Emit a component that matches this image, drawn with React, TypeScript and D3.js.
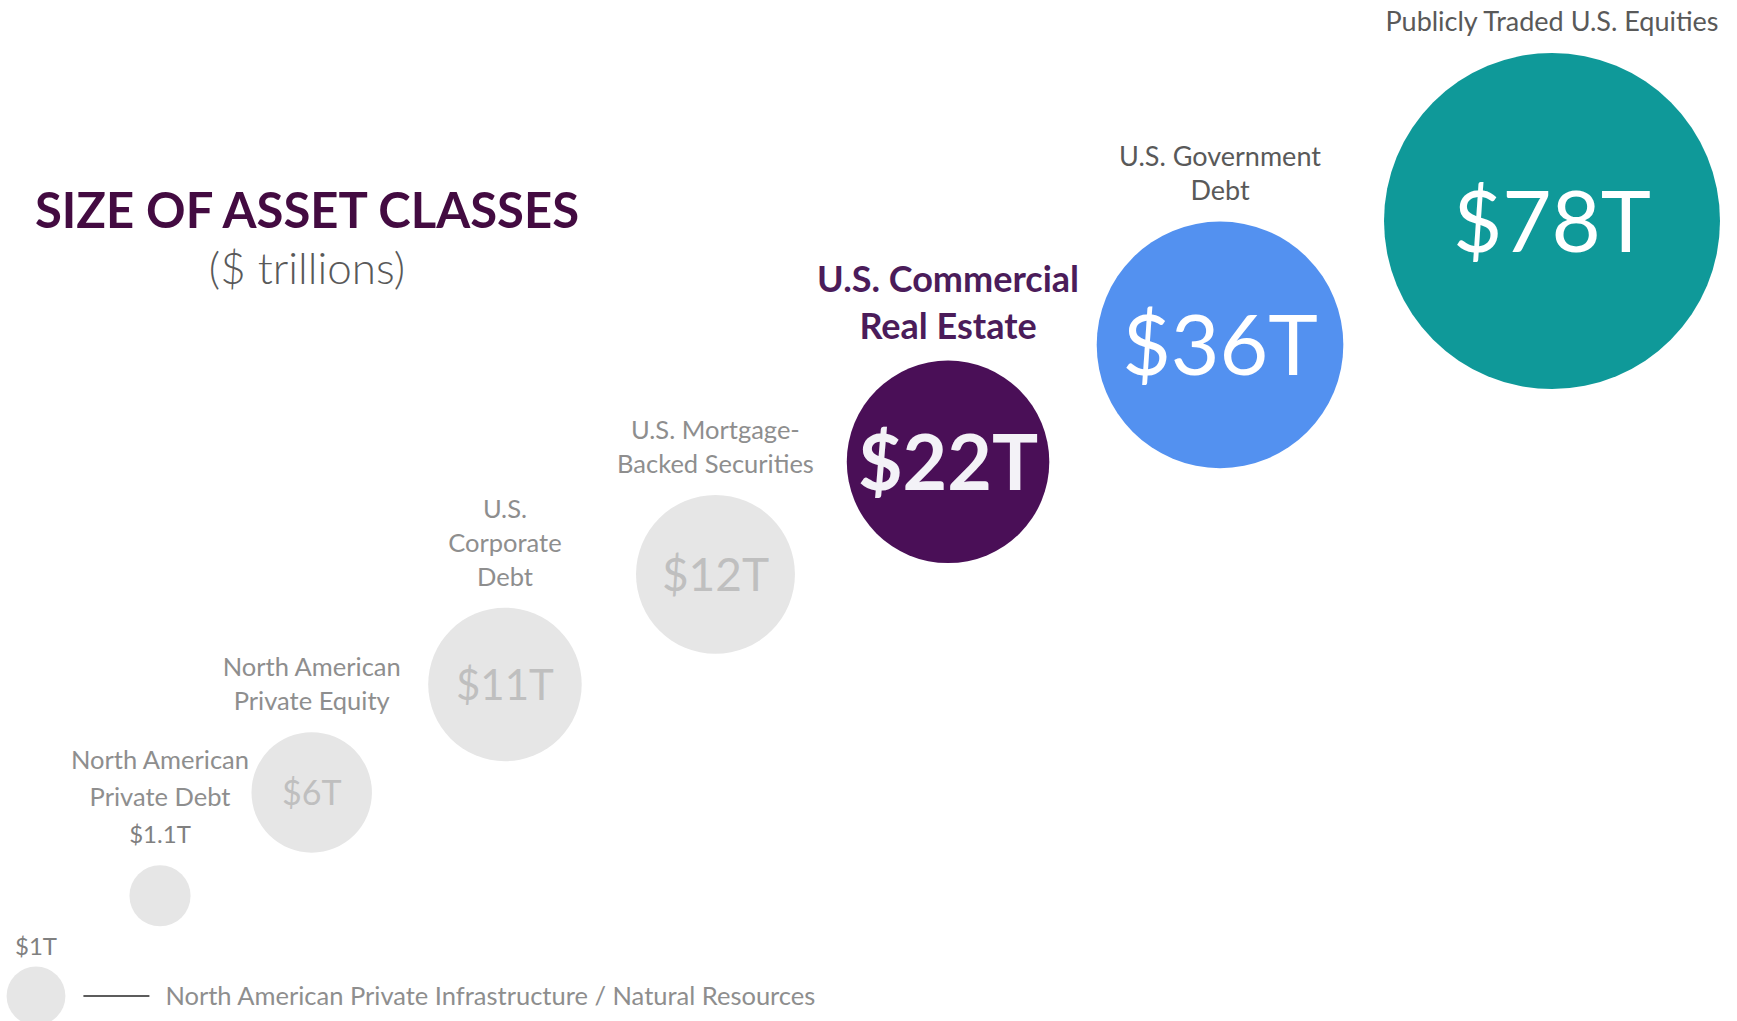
import * as d3 from 'd3';
import { useEffect, useRef } from 'react';

// asset classes, smallest to largest ($ trillions)
const categories = [
    'North American Private Infrastructure / Natural Resources',
    'North American Private Debt',
    'North American Private Equity',
    'U.S. Corporate Debt',
    'U.S. Mortgage-Backed Securities',
    'U.S. Commercial Real Estate',
    'U.S. Government Debt',
    'Publicly Traded U.S. Equities',
];
const values = [1, 1.1, 6, 11, 12, 22, 36, 78];
const valueLabels = ['$1T', '$1.1T', '$6T', '$11T', '$12T', '$22T', '$36T', '$78T'];
// how each category name is broken over lines in the picture
const labelLines = [
    [],
    ['North American', 'Private Debt'],
    ['North American', 'Private Equity'],
    ['U.S.', 'Corporate', 'Debt'],
    ['U.S. Mortgage-', 'Backed Securities'],
    ['U.S. Commercial', 'Real Estate'],
    ['U.S. Government', 'Debt'],
    ['Publicly Traded U.S. Equities'],
];

const title = 'SIZE OF ASSET CLASSES';
const subtitle = '($ trillions)';

const W = 1737;
const H = 1021;
const FONT = 'Lato, "Open Sans", sans-serif';

// styling per bubble
const kinds = ['tiny', 'tiny', 'muted', 'muted', 'muted', 'highlight', 'blue', 'teal'];
const valueFontSize = [24, 24, 34, 42, 46, 77, 84, 85];
const kindStyle = {
    tiny: { fill: '#e6e6e6', value: '#808080', label: '#8e8e8e', labelSize: 25.5, labelWeight: 400, lineH: 37, valueWeight: 400 },
    muted: { fill: '#e6e6e6', value: '#bfbfbf', label: '#8e8e8e', labelSize: 25.5, labelWeight: 400, lineH: 34, valueWeight: 400 },
    highlight: { fill: '#4a0f57', value: '#f3f2f7', label: '#4b1c5a', labelSize: 36, labelWeight: 700, lineH: 47, valueWeight: 700 },
    blue: { fill: '#5391f0', value: '#ffffff', label: '#595959', labelSize: 27, labelWeight: 400, lineH: 34, valueWeight: 400 },
    teal: { fill: '#0f9999', value: '#ffffff', label: '#595959', labelSize: 27, labelWeight: 400, lineH: 34, valueWeight: 400 },
};

function App() {
    return <AssetBubbles />;
}

const AssetBubbles = () => {
    const svgRef = useRef<SVGSVGElement>(null);

    useEffect(() => {
        d3.select(svgRef.current).selectAll('*').remove();

        const svg = d3
            .select(svgRef.current)
            .attr('width', W)
            .attr('height', H)
            .style('background', '#ffffff');

        const rScale = d3
            .scalePow()
            .exponent(0.4)
            .domain([0, d3.max(values) as number])
            .range([0, 168]);
        const radii = values.map((v) => rScale(v));

        // bubbles sit one after another with a fixed gap; the run is fitted into the width
        const gap = 78;
        const run = [0];
        for (let i = 1; i < values.length; i++) {
            run.push(run[i - 1] + radii[i - 1] + radii[i] + gap);
        }
        const last = run.length - 1;
        const xScale = d3.scaleLinear().domain([0, run[last]]).range([36, 1552]);

        // each step climbs a fixed amount plus a share of the horizontal travel
        const climb = run.map((u, i) => i + (2 * u) / run[last]);
        const yScale = d3.scaleLinear().domain([0, climb[last]]).range([996, 221]);

        const nodes = values.map((v, i) => ({
            i,
            v,
            cx: xScale(run[i]),
            cy: yScale(climb[i]),
            r: radii[i],
            st: kindStyle[kinds[i]],
        }));

        // title
        svg.append('text')
            .attr('x', 307)
            .attr('y', 228)
            .attr('text-anchor', 'middle')
            .attr('font-family', FONT)
            .attr('font-weight', 700)
            .attr('font-size', 49)
            .attr('fill', '#430b41')
            .text(title);

        svg.append('text')
            .attr('x', 307)
            .attr('y', 284)
            .attr('text-anchor', 'middle')
            .attr('font-family', FONT)
            .attr('font-weight', 300)
            .attr('font-size', 44)
            .attr('fill', '#595959')
            .text(subtitle);

        const g = svg.selectAll('g.bubble').data(nodes).enter().append('g').attr('class', 'bubble');

        g.append('circle')
            .attr('cx', (d) => d.cx)
            .attr('cy', (d) => d.cy)
            .attr('r', (d) => d.r)
            .attr('fill', (d) => d.st.fill);

        // value inside the bigger bubbles
        g.filter((d) => kinds[d.i] !== 'tiny')
            .append('text')
            .attr('x', (d) => d.cx)
            .attr('y', (d) => d.cy)
            .attr('dy', '0.36em')
            .attr('text-anchor', 'middle')
            .attr('font-family', FONT)
            .attr('font-weight', (d) => d.st.valueWeight)
            .attr('font-size', (d) => valueFontSize[d.i])
            .attr('fill', (d) => d.st.value)
            .text((d) => valueLabels[d.i]);

        // labels stacked above each bubble
        g.each(function (d) {
            const lines = labelLines[d.i].map((t) => ({ t, size: d.st.labelSize, weight: d.st.labelWeight, color: d.st.label }));
            if (kinds[d.i] === 'tiny') {
                lines.push({ t: valueLabels[d.i], size: valueFontSize[d.i], weight: 400, color: d.st.value });
            }
            const bottom = d.cy - d.r - (d.i === 0 ? 12 : 22);
            const sel = d3.select(this);
            lines.forEach((ln, k) => {
                sel.append('text')
                    .attr('x', d.cx)
                    .attr('y', bottom - (lines.length - 1 - k) * d.st.lineH)
                    .attr('text-anchor', 'middle')
                    .attr('font-family', FONT)
                    .attr('font-weight', ln.weight)
                    .attr('font-size', ln.size)
                    .attr('fill', ln.color)
                    .text(ln.t);
            });
        });

        // smallest bubble is named off to the right with a leader line
        const first = nodes[0];
        const x1 = first.cx + first.r + 18;
        svg.append('line')
            .attr('x1', x1)
            .attr('x2', x1 + 66)
            .attr('y1', first.cy)
            .attr('y2', first.cy)
            .attr('stroke', '#262626')
            .attr('stroke-width', 1.5);
        svg.append('text')
            .attr('x', x1 + 66 + 16)
            .attr('y', first.cy)
            .attr('dy', '0.36em')
            .attr('font-family', FONT)
            .attr('font-size', 25.5)
            .attr('fill', '#8e8e8e')
            .text(categories[0]);
    }, []);

    return (
        <svg
            ref={svgRef}
            style={{ position: 'absolute', left: 0, top: 0, display: 'block' }}
        ></svg>
    );
};

export default App;
